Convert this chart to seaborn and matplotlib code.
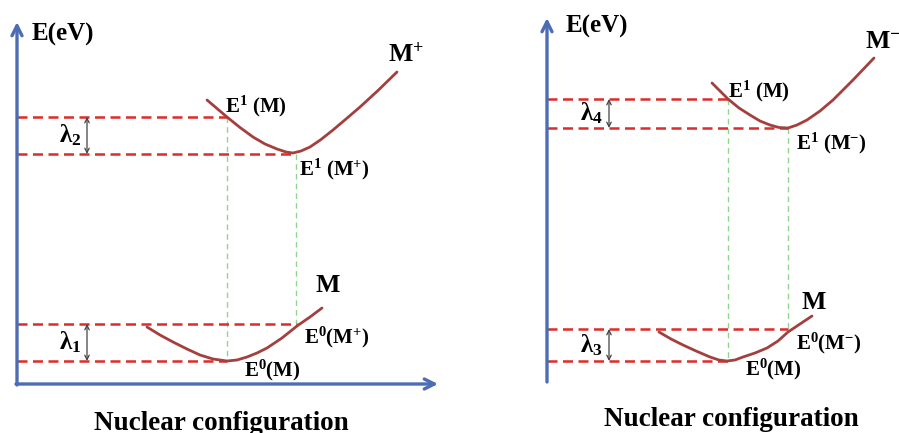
import matplotlib
matplotlib.use("Agg")
import matplotlib.pyplot as plt
import seaborn as sns
import pandas as pd

# ---------------- data (diagram units: x = nuclear configuration, y = energy, image-like, y downward) -------------
# Left panel: cation curve M+ and neutral curve M
cation_x = [207, 217, 227, 240, 253, 265, 277, 286, 293, 301, 310, 321, 333, 346, 360, 378, 397]
cation_y = [100, 108.5, 117, 127.5, 137, 144, 149, 152, 153, 151, 147, 139.5, 130, 119, 107, 90.5, 72]
neutralL_x = [147, 160, 173, 187, 200, 213, 227, 237, 247, 257, 267, 282, 297, 310, 322]
neutralL_y = [327, 335, 342, 349, 355, 359, 361, 360, 357, 353, 348, 338, 326, 317, 308]
# Right panel: anion curve M- and neutral curve M
anion_x = [712, 720, 728, 739, 750, 760, 770, 779, 788, 797, 807, 820, 833, 853, 874]
anion_y = [83, 91, 99, 108, 115, 121, 125, 127.5, 128, 125, 120, 111, 100, 80, 58]
neutralR_x = [659, 671, 683, 696, 710, 719, 727, 735, 743, 755, 767, 778, 788, 800, 812]
neutralR_y = [332, 339, 345, 351, 357, 360, 361, 360, 357, 353, 348, 341, 332, 324, 316]

# energy levels (y), the configuration they reach (x_end), per panel
levels_left_y = [117, 154, 324, 361]
levels_left_xend = [227, 295, 297, 227]
levels_right_y = [99, 128, 329, 361]
levels_right_xend = [728, 788, 788, 728]
# vertical configuration markers (x, y_top, y_bottom)
vlines_x = [227, 296, 728, 788]
vlines_top = [117, 154, 99, 128]
vlines_bot = [361, 324, 361, 329]
# reorganization energies (arrow x, top, bottom, label)
lam_x = [87, 87, 609, 609]
lam_top = [117, 324, 99, 329]
lam_bot = [154, 361, 128, 361]
lam_labels = ["λ$_{2}$", "λ$_{1}$", "λ$_{4}$", "λ$_{3}$"]

# ---------------- style ----------------
sns.set_theme(style="white")
plt.rcParams["font.family"] = ["Liberation Serif", "DejaVu Serif"]
plt.rcParams["font.weight"] = "bold"
plt.rcParams["mathtext.fontset"] = "custom"
plt.rcParams["mathtext.rm"] = "Liberation Serif:bold"
plt.rcParams["mathtext.bf"] = "Liberation Serif:bold"
plt.rcParams["mathtext.it"] = "Liberation Serif:bold"
plt.rcParams["mathtext.default"] = "bf"

AXIS_BLUE = "#4c6db4"
RED = "#de2b2b"
GREEN = "#8fd48f"
CURVE = "#a3403e"

fig = plt.figure(figsize=(8.99, 4.33), dpi=100)
ax = fig.add_axes([0, 0, 1, 1])
ax.set_xlim(0, 899)
ax.set_ylim(433, 0)
ax.axis("off")

# curves
df = pd.concat([
    pd.DataFrame({"x": cation_x, "y": cation_y, "c": "M+"}),
    pd.DataFrame({"x": neutralL_x, "y": neutralL_y, "c": "ML"}),
    pd.DataFrame({"x": anion_x, "y": anion_y, "c": "M-"}),
    pd.DataFrame({"x": neutralR_x, "y": neutralR_y, "c": "MR"}),
])
sns.lineplot(data=df, x="x", y="y", units="c", estimator=None, sort=False,
             color=CURVE, lw=2.0, ax=ax, zorder=4)

# green vertical dashed lines
for x, t, b in zip(vlines_x, vlines_top, vlines_bot):
    ax.plot([x, x], [t, b], color=GREEN, lw=1.0, dashes=(4, 3), zorder=2)

# red dashed energy levels
for y, xe in zip(levels_left_y, levels_left_xend):
    ax.plot([17, xe], [y, y], color=RED, lw=1.8, dashes=(4, 2.2), zorder=3)
for y, xe in zip(levels_right_y, levels_right_xend):
    ax.plot([547, xe], [y, y], color=RED, lw=1.8, dashes=(4, 2.2), zorder=3)

# axes with arrows
arrow_kw = dict(arrowstyle="->", lw=2.4, color=AXIS_BLUE, mutation_scale=18, shrinkA=0, shrinkB=0)
ax.annotate("", xy=(17, 22), xytext=(17, 385), arrowprops=arrow_kw, zorder=5)
ax.annotate("", xy=(438, 384), xytext=(16, 384), arrowprops=arrow_kw, zorder=5)
ax.annotate("", xy=(547, 18), xytext=(547, 382), arrowprops=arrow_kw, zorder=5)
ax.annotate("", xy=(905, 381), xytext=(546, 381), arrowprops=arrow_kw, zorder=5)

# lambda arrows and labels
for x, t, b, lab in zip(lam_x, lam_top, lam_bot, lam_labels):
    ax.annotate("", xy=(x, t), xytext=(x, b),
                arrowprops=dict(arrowstyle="<->", lw=0.9, color="#444444",
                                mutation_scale=8, shrinkA=0, shrinkB=0), zorder=5)
    ax.text(x - 6, (t + b) / 2 + 7, lab, ha="right", va="baseline", fontsize=18, color="black")

TXT = dict(color="black", va="baseline")
LBL = 15
# left panel labels
ax.text(32, 41, "E(eV)", fontsize=18, **TXT)
ax.text(388, 62, "M$^{+}$", fontsize=18.5, **TXT)
ax.text(225, 112, "E$^{1}$ (M)", fontsize=LBL, **TXT)
ax.text(299, 175, "E$^{1}$ (M$^{+}$)", fontsize=LBL, **TXT)
ax.text(316, 292, "M", fontsize=18.5, **TXT)
ax.text(304, 343, "E$^{0}$(M$^{+}$)", fontsize=LBL, **TXT)
ax.text(244, 376, "E$^{0}$(M)", fontsize=LBL, **TXT)
ax.text(221, 430, "Nuclear configuration", fontsize=19.5, ha="center", color="black", va="baseline")

# right panel labels
ax.text(566, 33, "E(eV)", fontsize=18, **TXT)
ax.text(865, 48, "M$^{-}$", fontsize=18.5, **TXT)
ax.text(728, 97, "E$^{1}$ (M)", fontsize=LBL, **TXT)
ax.text(796, 149, "E$^{1}$ (M$^{-}$)", fontsize=LBL, **TXT)
ax.text(802, 309, "M", fontsize=18.5, **TXT)
ax.text(796, 349, "E$^{0}$(M$^{-}$)", fontsize=LBL, **TXT)
ax.text(745, 375, "E$^{0}$(M)", fontsize=LBL, **TXT)
ax.text(731, 426, "Nuclear configuration", fontsize=19.5, ha="center", color="black", va="baseline")

fig.savefig("out.png", dpi=100)
